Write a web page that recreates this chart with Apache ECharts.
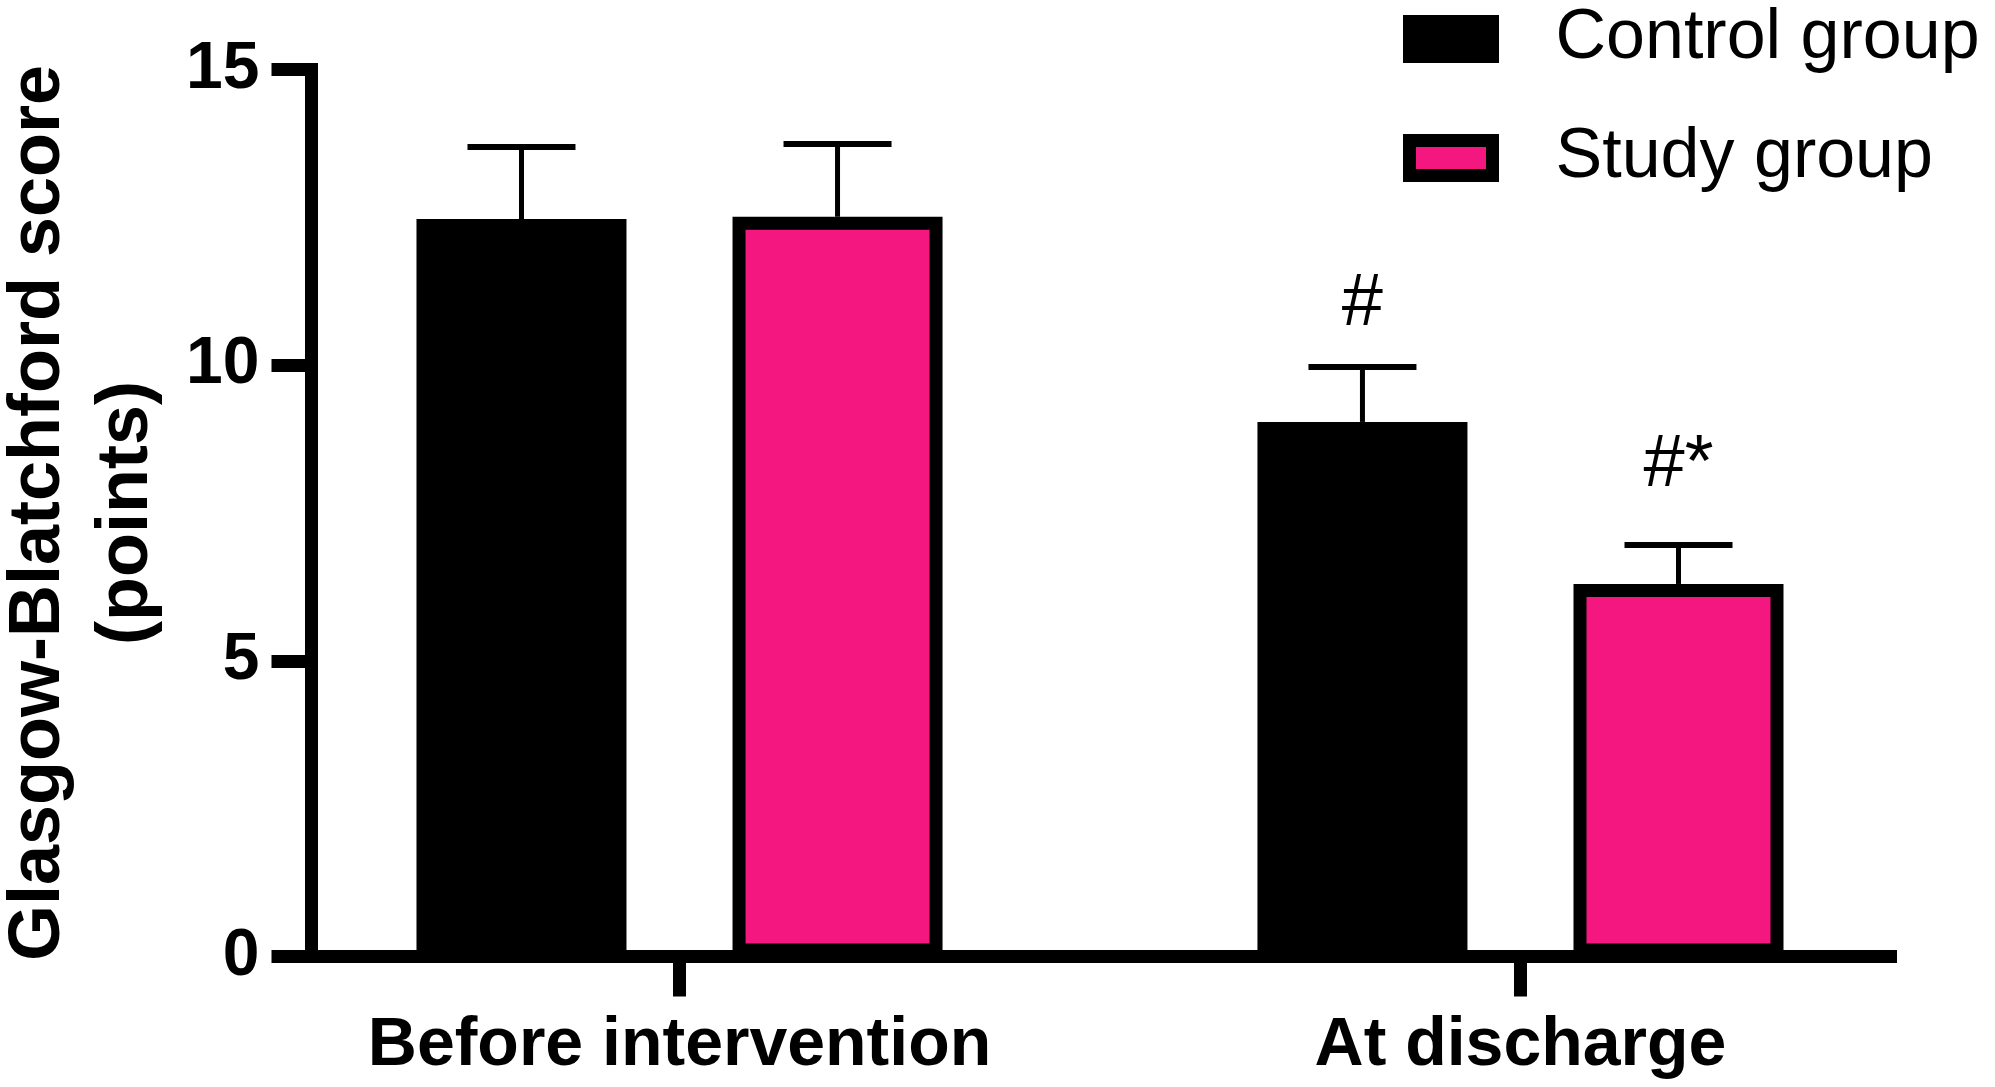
<!DOCTYPE html>
<html>
<head>
<meta charset="utf-8">
<script src="https://cdn.jsdelivr.net/npm/echarts@6/dist/echarts.min.js"></script>
<style>
html,body{margin:0;padding:0;background:#fff;}
#chart{width:1995px;height:1087px;}
</style>
</head>
<body>
<div id="chart"></div>
<script>
// ---- data ----
var categories = ['Before intervention', 'At discharge'];
var seriesNames = ['Control group', 'Study group'];
var controlMean = [12.47, 9.04];
var controlSD = [1.22, 0.93];
var studyMean = [12.51, 6.3];
var studySD = [1.23, 0.66];
var controlMarks = ['', '#'];
var studyMarks = ['', '#*'];
var yTicks = [0, 5, 10, 15];

// ---- style constants ----
var FONT = '"Liberation Sans", Arial, Helvetica, sans-serif';
var PINK = '#F3177F';
var BAR_W = 210;
var BAR_GAP = 0.505;
var BORDER = 13;
var HALF_OFF = (BAR_W + BAR_W * BAR_GAP) / 2;

function barData(means) {
  return means.map(function (v, i) { return [i, v]; });
}
function errData(means, sds) {
  return means.map(function (v, i) { return [i, v, sds[i]]; });
}
function errSeries(name, means, sds, dir) {
  return {
    type: 'custom',
    name: name + ' SD',
    z: 5,
    silent: true,
    data: errData(means, sds),
    renderItem: function (params, api) {
      var x = api.value(0), m = api.value(1), s = api.value(2);
      var p0 = api.coord([x, m]);
      var p1 = api.coord([x, m + s]);
      var cx = p0[0] + dir * HALF_OFF;
      var capHalf = 54;
      return {
        type: 'group',
        children: [
          { type: 'line', shape: { x1: cx, y1: p0[1], x2: cx, y2: p1[1] },
            style: { stroke: '#000', lineWidth: 5 } },
          { type: 'line', shape: { x1: cx - capHalf, y1: p1[1], x2: cx + capHalf, y2: p1[1] },
            style: { stroke: '#000', lineWidth: 6 } }
        ]
      };
    }
  };
}

var chart = echarts.init(document.getElementById('chart'));
chart.setOption({
  backgroundColor: '#fff',
  animation: false,
  textStyle: { fontFamily: FONT },
  legend: {
    orient: 'vertical',
    left: 1403,
    top: 4,
    padding: 0,
    itemGap: 49,
    itemWidth: 83,
    itemHeight: 35,
    icon: 'rect',
    itemStyle: { borderWidth: BORDER, borderColor: '#000' },
    textStyle: { fontFamily: FONT, fontSize: 70, color: '#000', lineHeight: 70, padding: [0, 0, 0, 58] },
    data: seriesNames
  },
  grid: { left: 311.5, right: 104.5, top: 69.5, bottom: 130.5, containLabel: false, outerBoundsMode: 'none' },
  xAxis: {
    type: 'value',
    min: -0.4376,
    max: 1.44,
    splitLine: { show: false },
    axisLine: { show: true, onZero: false, lineStyle: { color: '#000', width: 13, cap: 'square' } },
    axisTick: { show: true, customValues: [0, 1], length: 40, lineStyle: { color: '#000', width: 13 } },
    axisLabel: {
      customValues: [0, 1],
      margin: 56,
      fontFamily: FONT, fontSize: 68, fontWeight: 'bold', color: '#000',
      formatter: function (v) { return categories[Math.round(v)]; }
    }
  },
  yAxis: {
    type: 'value',
    min: 0,
    max: 15,
    interval: 5,
    splitLine: { show: false },
    axisLine: { show: true, onZero: false, lineStyle: { color: '#000', width: 13, cap: 'square' } },
    axisTick: { show: true, length: 40, lineStyle: { color: '#000', width: 13 } },
    axisLabel: {
      margin: 52,
      fontFamily: FONT, fontSize: 66, fontWeight: 'bold', color: '#000',
      formatter: function (v) { return yTicks.indexOf(v) >= 0 ? String(v) : ''; }
    },
    name: 'Glasgow-Blatchford score\n(points)',
    nameLocation: 'middle',
    nameGap: 140,
    nameTextStyle: { fontFamily: FONT, fontSize: 72, fontWeight: 'bold', color: '#000', lineHeight: 88 }
  },
  series: [
    {
      type: 'bar',
      name: seriesNames[0],
      data: barData(controlMean),
      barWidth: BAR_W,
      barGap: (BAR_GAP * 100) + '%',
      itemStyle: { color: '#000', borderColor: '#000', borderWidth: BORDER },
      label: {
        show: true, position: 'top', distance: 80,
        fontFamily: FONT, fontSize: 74, color: '#000',
        formatter: function (p) { return controlMarks[p.dataIndex]; }
      }
    },
    {
      type: 'bar',
      name: seriesNames[1],
      data: barData(studyMean),
      barWidth: BAR_W,
      barGap: (BAR_GAP * 100) + '%',
      itemStyle: { color: PINK, borderColor: '#000', borderWidth: BORDER },
      label: {
        show: true, position: 'top', distance: 81,
        fontFamily: FONT, fontSize: 74, color: '#000',
        formatter: function (p) { return studyMarks[p.dataIndex]; }
      }
    },
    errSeries(seriesNames[0], controlMean, controlSD, -1),
    errSeries(seriesNames[1], studyMean, studySD, 1)
  ]
});
</script>
</body>
</html>
